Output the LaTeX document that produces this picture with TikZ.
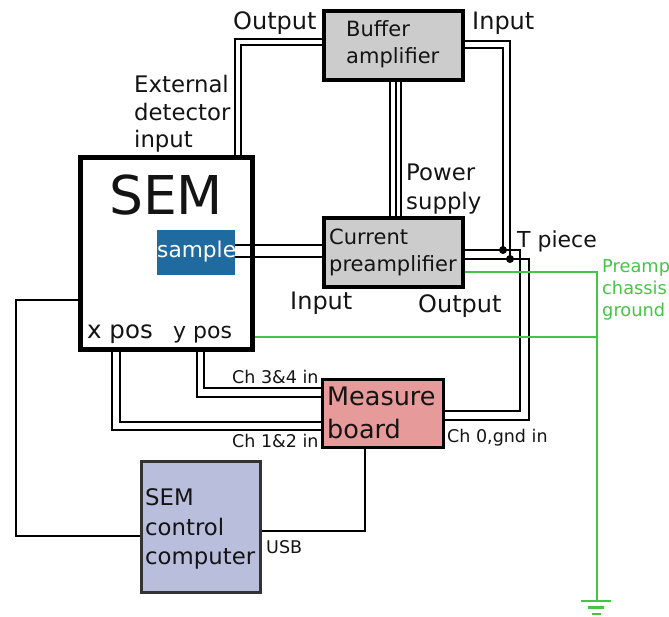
\documentclass[tikz,border=0pt]{standalone}
\usepackage{fontspec}
\setmainfont{DejaVu Sans}
\definecolor{gbox}{HTML}{CCCCCC}
\definecolor{gline}{HTML}{45C545}
\definecolor{samp}{HTML}{1F6A9E}
\definecolor{meas}{HTML}{E69A9A}
\definecolor{ctrl}{HTML}{B9BEDD}
\newcommand{\fs}[1]{\fontsize{#1}{#1}\selectfont}
\tikzset{
  x=1pt,y=-1pt,
  wire/.style={draw=black,line width=2pt},
  gwire/.style={draw=gline,line width=2pt},
  amp/.style={draw=black,line width=4pt,fill=gbox,minimum width=139pt,minimum height=69pt,inner sep=0pt},
  lab/.style={inner sep=0pt,anchor=base west,text=black!92!white},
  big/.style={lab,font=\fs{24}},
  mid/.style={lab,font=\fs{21}},
  ext/.style={lab,font=\fs{22.8}},
  sml/.style={lab,font=\fs{17.5}},
  grn/.style={lab,font=\fs{17.8},text=gline}
}
\begin{document}
\begin{tikzpicture}
\useasboundingbox (0,0) rectangle (669,617);
\coordinate (wa) at (235,155); \coordinate (wb) at (241,155);
\coordinate (ta) at (503,250); \coordinate (tb) at (510,259);
\node[amp] (buf) at (393.5,45.5) {};
\node[amp] (pre) at (393.5,253) {};
\node[draw=black,line width=5pt,fill=white,minimum width=172pt,minimum height=192pt,inner sep=0pt] (sem) at (166,254) {};
\node[fill=samp,minimum width=78pt,minimum height=45pt,inner sep=0pt] (smp) at (196,252.5) {};
\node[draw=black,line width=2.4pt,fill=meas,minimum width=121pt,minimum height=68pt,inner sep=0pt] (mb) at (383,413.5) {};
\node[draw=black!80,line width=2.4pt,fill=ctrl,minimum width=119pt,minimum height=131pt,inner sep=0pt] (pc) at (201,527) {};
\coordinate (gnd) at (597,601);
% buffer output to SEM
\draw[wire] (buf.west |- 0,39) -- (235,39) -- (wa);
\draw[wire] (buf.west |- 0,45) -- (241,45) -- (wb);
% power supply
\draw[wire] (390,0 |- buf.south) -- (390,0 |- pre.north);
\draw[wire] (396,0 |- buf.south) -- (396,0 |- pre.north);
\draw[wire] (400.5,0 |- buf.south) -- (400.5,0 |- pre.north);
% buffer input to T pieces
\draw[wire] (buf.east |- 0,41) -- (510,41) -- (tb);
\draw[wire] (buf.east |- 0,48) -- (503,48) -- (ta);
\fill (ta) circle (4);
\fill (tb) circle (4);
% preamp output to measure board
\draw[wire] (pre.east |- 0,250) -- (520,250) -- (520,411) -- (mb.east |- 0,411);
\draw[wire] (pre.east |- 0,259) -- (529,259) -- (529,420) -- (mb.east |- 0,420);
% sample to preamp
\draw[wire] (smp.east |- 0,245) -- (pre.west |- 0,245);
\draw[wire] (smp.east |- 0,257.5) -- (pre.west |- 0,257.5);
% x pos, y pos
\draw[wire] (112,0 |- sem.south) -- (112,430) -- (mb.west |- 0,430);
\draw[wire] (120,0 |- sem.south) -- (120,422) -- (mb.west |- 0,422);
\draw[wire] (197,0 |- sem.south) -- (197,397) -- (mb.west |- 0,397);
\draw[wire] (204,0 |- sem.south) -- (204,388) -- (mb.west |- 0,388);
% SEM to computer, computer to board
\draw[wire] (sem.west |- 0,300) -- (16,300) -- (16,536) -- (pc.west |- 0,536);
\draw[wire] (pc.east |- 0,531) -- (365,531) -- (365,0 |- mb.south);
% grounds
\draw[gwire] (pre.east |- 0,272) -- (597,272) -- (gnd);
\draw[gwire] (sem.east |- 0,337) -- (597,337);
\draw[gwire,line width=2.4pt] (581,601) -- (611,601);
\draw[gwire,line width=2.4pt] (588,607.5) -- (604,607.5);
\draw[gwire,line width=2.4pt] (592,614) -- (601,614);
% labels
\node[big] (t1) at (233,30) {Output};
\node[big] (t2) at (472,30) {Input};
\node[mid] (t3) at (346,37) {Buffer};
\node[mid] (t4) at (346,64) {amplifier};
\node[ext] (t5) at (134,93) {External};
\node[ext] (t6) at (134,121) {detector};
\node[ext] (t7) at (134,148) {input};
\node[ext] (t8) at (406,181) {Power};
\node[ext] (t9) at (406,210) {supply};
\node[lab,font=\fs{53.5}] (t10) at (109,215) {SEM};
\node[lab,font=\fs{21.7},text=white] (t11) at (157,258) {sample};
\node[mid] (t12) at (329,245) {Current};
\node[mid] (t13) at (329,272) {preamplifier};
\node[lab,font=\fs{22}] (t14) at (517,248) {T piece};
\node[big] (t15) at (290,310) {Input};
\node[big] (t16) at (418,313) {Output};
\node[grn] (t17) at (602,273) {Preamp};
\node[grn] (t18) at (602,295) {chassis};
\node[grn] (t19) at (602,317) {ground};
\node[lab,font=\fs{24.5}] (t20) at (87,339) {x pos};
\node[lab,font=\fs{22}] (t21) at (173,338) {y pos};
\node[sml] (t22) at (232,384) {Ch 3\&4 in};
\node[sml] (t23) at (232,447) {Ch 1\&2 in};
\node[sml] (t24) at (447,442) {Ch 0,gnd in};
\node[lab,font=\fs{25.5}] (t25) at (327,405) {Measure};
\node[lab,font=\fs{25.5}] (t26) at (327,438) {board};
\node[ext] (t27) at (145,505) {SEM};
\node[ext] (t28) at (145,535) {control};
\node[ext] (t29) at (145,564) {computer};
\node[sml] (t30) at (266,553) {USB};
\end{tikzpicture}
\end{document}
